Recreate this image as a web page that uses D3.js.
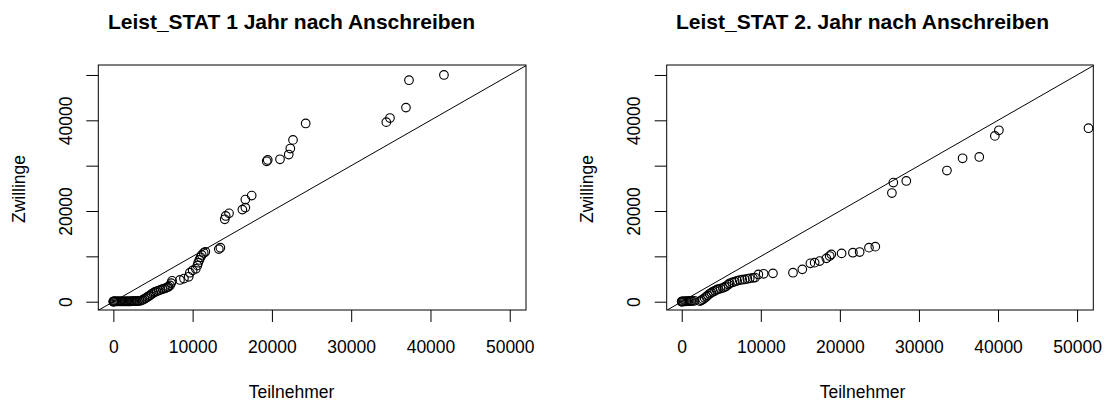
<!DOCTYPE html>
<html>
<head>
<meta charset="utf-8">
<script src="https://cdn.jsdelivr.net/npm/d3@7"></script>
<style>
  body { margin: 0; background: #fff; }
  svg { display: block; font-family: "Liberation Sans", Arial, Helvetica, sans-serif; }
</style>
</head>
<body>
<div id="chart"></div>
<script>
"use strict";

// sorted quantile pairs [Teilnehmer, Zwillinge]
const stat1Pairs = [
  [0, 0], [0, 40], [50, 60], [150, 70], [250, 80], [400, 80], [550, 80], [700, 80],
  [850, 80], [1000, 80], [1150, 80], [1300, 80], [1450, 80], [1600, 80], [1750, 90],
  [1900, 90], [2050, 90], [2200, 90], [2350, 100], [2500, 100], [2650, 100], [2800, 110],
  [2950, 120], [3100, 140], [3300, 180], [3500, 260], [3700, 400], [3900, 600],
  [4100, 800], [4300, 1050], [4500, 1250], [4650, 1450], [4850, 1700], [5050, 1950],
  [5250, 2150], [5450, 2300], [5700, 2450], [5950, 2600], [6200, 2800], [6400, 2900],
  [6600, 3000], [6800, 3150], [6950, 3300], [7150, 3600], [7300, 4100], [7400, 4600],
  [8400, 4800], [8900, 5100], [9500, 5500], [9650, 6400], [10000, 6900], [10400, 7250],
  [10600, 8000], [10700, 8600], [10850, 9200], [11000, 9800], [11150, 10300],
  [11400, 10750], [11600, 11000], [13300, 11600], [13500, 11900], [14050, 18170],
  [14170, 18900], [14590, 19490], [16270, 20310], [16650, 20750], [16650, 22520],
  [17450, 23400], [19340, 30970], [19470, 31260], [21020, 31410], [22120, 32450],
  [22320, 33770], [22660, 35680], [24260, 39300], [34430, 39600], [34890, 40500],
  [36910, 42800], [37290, 48850], [41700, 50000]
];

const stat2Pairs = [
  [0, 0], [0, 30], [100, 50], [250, 70], [400, 80], [550, 90], [700, 100], [850, 110],
  [1000, 120], [1150, 140], [1300, 160], [1600, 200], [2300, 130], [2500, 300],
  [2700, 550], [2900, 800], [3100, 1100], [3300, 1400], [3540, 1750], [3750, 2000],
  [3960, 2200], [4200, 2400], [4400, 2600], [4590, 2750], [4900, 2900], [5220, 3050],
  [5450, 3250], [5650, 3450], [5900, 3800], [6070, 4050], [6400, 4250], [6700, 4420],
  [7000, 4600], [7330, 4780], [7650, 4850], [7960, 4920], [8300, 5050], [8600, 5150],
  [9000, 5250], [9270, 5320], [9690, 6000], [10360, 6150], [11540, 6250], [14070, 6400],
  [15250, 7130], [16270, 8460], [16810, 8610], [17440, 8960], [18290, 9560],
  [18710, 10070], [18920, 10440], [20220, 10660], [21650, 10800], [22500, 10950],
  [23680, 11920], [24480, 12140], [26580, 23970], [26760, 26270], [28400, 26620],
  [33540, 28920], [35520, 31630], [37630, 31920], [39600, 36560], [40110, 37810],
  [51440, 38260]
];

const panelTitles = ["Leist_STAT 1 Jahr nach Anschreiben", "Leist_STAT 2. Jahr nach Anschreiben"];
const xTicks = [0, 10000, 20000, 30000, 40000, 50000];
const yTicks = [0, 10000, 20000, 30000, 40000, 50000];
const yTickLabels = [0, 20000, 40000];
const xLabel = "Teilnehmer";
const yLabel = "Zwillinge";

const width = 1111, height = 401;
const xDomain = [-1900, 52050];
const yDomain = [-1830, 52200];

let svg = d3.select("#chart").append("svg")
  .attr("width", width)
  .attr("height", height);

// plot region edges of each panel, title/xlabel center
let panels = [
  { left: 98.3, right: 526, center: 291.5, data: stat1Pairs, title: panelTitles[0] },
  { left: 666.7, right: 1093.3, center: 862.5, data: stat2Pairs, title: panelTitles[1] }
];
let plotTop = 65, plotBottom = 310;

panels.forEach(drawPanel);

function drawPanel(p) {
  let g = svg.append("g");

  let x = d3.scaleLinear().domain(xDomain).range([p.left, p.right]);
  let y = d3.scaleLinear().domain(yDomain).range([plotBottom, plotTop]);

  // x axis
  let xAxis = g.append("g")
    .attr("transform", "translate(0," + plotBottom + ")")
    .call(d3.axisBottom(x).tickValues(xTicks).tickSize(12).tickFormat(d3.format("d")));
  xAxis.select(".domain").remove();
  xAxis.selectAll("line").attr("stroke", "#000");
  xAxis.selectAll("text")
    .attr("y", 43)
    .attr("dy", null)
    .attr("fill", "#000")
    .style("font-size", "17.5px");

  // y axis, labels rotated like R does
  let yAxis = g.append("g")
    .attr("transform", "translate(" + p.left + ",0)")
    .call(d3.axisLeft(y).tickValues(yTicks).tickSize(12)
      .tickFormat(d => yTickLabels.includes(d) ? d3.format("d")(d) : ""));
  yAxis.select(".domain").remove();
  yAxis.selectAll("line").attr("stroke", "#000");
  yAxis.selectAll("text")
    .attr("x", null)
    .attr("dy", null)
    .attr("text-anchor", "middle")
    .attr("transform", "translate(-26.5,0) rotate(-90)")
    .attr("fill", "#000")
    .style("font-size", "17.5px");

  // clip for the diagonal
  let clipId = "clip" + Math.round(p.left);
  g.append("clipPath").attr("id", clipId)
    .append("rect")
    .attr("x", p.left).attr("y", plotTop)
    .attr("width", p.right - p.left).attr("height", plotBottom - plotTop);

  let hi = Math.min(xDomain[1], yDomain[1]);
  g.append("line")
    .attr("clip-path", "url(#" + clipId + ")")
    .attr("x1", x(xDomain[0])).attr("y1", y(xDomain[0]))
    .attr("x2", x(hi)).attr("y2", y(hi))
    .attr("stroke", "#000")
    .attr("stroke-width", 1);

  g.append("g")
    .selectAll("circle")
    .data(p.data)
    .enter().append("circle")
    .attr("cx", d => x(d[0]))
    .attr("cy", d => y(d[1]))
    .attr("r", 4.3)
    .attr("fill", "none")
    .attr("stroke", "#000")
    .attr("stroke-width", 1.15);

  // plot box
  g.append("rect")
    .attr("x", p.left).attr("y", plotTop)
    .attr("width", p.right - p.left).attr("height", plotBottom - plotTop)
    .attr("fill", "none")
    .attr("stroke", "#000")
    .attr("stroke-width", 1);

  g.append("text")
    .attr("x", p.center).attr("y", 29)
    .attr("text-anchor", "middle")
    .style("font-size", "21px")
    .style("font-weight", "bold")
    .text(p.title);

  g.append("text")
    .attr("x", p.center).attr("y", 398)
    .attr("text-anchor", "middle")
    .style("font-size", "17.5px")
    .text(xLabel);

  g.append("text")
    .attr("transform", "translate(" + (p.left - 73.5) + "," + ((plotTop + plotBottom) / 2 + 1.5) + ") rotate(-90)")
    .attr("text-anchor", "middle")
    .style("font-size", "17.5px")
    .text(yLabel);
}
</script>
</body>
</html>
